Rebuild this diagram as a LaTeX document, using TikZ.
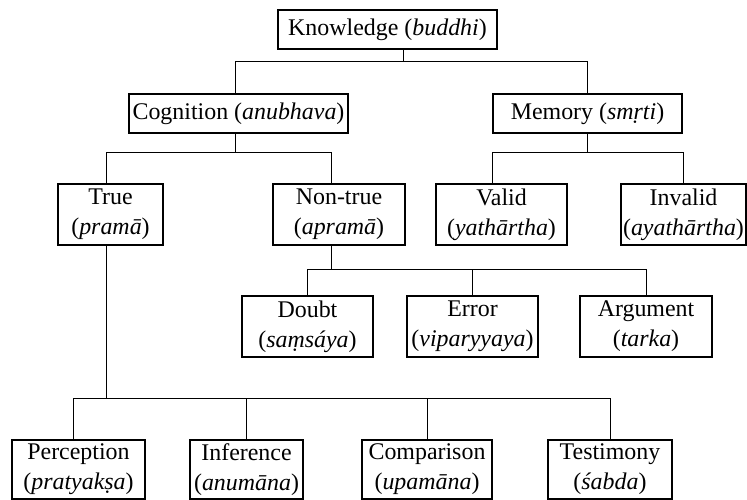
\documentclass[tikz,border=0pt]{standalone}
\usepackage{fontspec}
\setmainfont{Liberation Serif}
\usetikzlibrary{calc}

\begin{document}
\begin{tikzpicture}[x=1bp,y=-1bp,
    box/.style 2 args={draw, line width=1.1bp, inner sep=0pt, align=center,
        minimum width=#1bp, minimum height=#2bp, font=\fontsize{24}{30}\selectfont},
    link/.style={line width=1bp}]
    \useasboundingbox (0,0) rectangle (747,500);

    % Knowledge and its two kinds
    \node[box={219}{39}] (buddhi) at (387.5,29.5) {Knowledge (\textit{buddhi})};
    \node[box={219}{39}] (anubhava) at (238.5,113.5) {Cognition (\textit{anubhava})};
    \node[box={189}{39}] (smrti) at (587.5,113.5) {Memory (\textit{smṛti})};

    % second level
    \node[box={105}{61}] (prama) at (110.5,214.5) {True\\(\textit{pramā})};
    \node[box={132}{61}] (aprama) at (339,214.5) {Non-true\\(\textit{apramā})};
    \node[box={131}{61}] (yath) at (501.5,214.5) {Valid\\(\textit{yathārtha})};
    \node[box={125}{61}] (ayath) at (683.5,214.5) {Invalid\\(\textit{ayathārtha})};

    % kinds of non-true cognition
    \node[box={131}{61}] (samsaya) at (307.5,326.5) {Doubt\\(\textit{saṃsáya})};
    \node[box={131}{61}] (viparyaya) at (472.5,326.5) {Error\\(\textit{viparyyaya})};
    \node[box={132}{61}] (tarka) at (646,326.5) {Argument\\(\textit{tarka})};

    % sources of true cognition
    \node[box={133}{59}] (pratyaksa) at (78.5,469.5) {Perception\\(\textit{pratyakṣa})};
    \node[box={113}{59}] (anumana) at (246.5,469.5) {Inference\\(\textit{anumāna})};
    \node[box={130}{59}] (upamana) at (427,469.5) {Comparison\\(\textit{upamāna})};
    \node[box={124}{59}] (sabda) at (610,469.5) {Testimony\\(\textit{śabda})};

    % connectors
    \draw[link] ([xshift=16bp]buddhi.south) -- ++(0,12) coordinate (j1);
    \draw[link] ([xshift=-3bp]anubhava.north) |- (j1) -| (smrti.north);

    \draw[link] ([xshift=-3bp]anubhava.south) -- ++(0,19) coordinate (j2);
    \draw[link] ([xshift=-4bp]prama.north) |- (j2) -| ([xshift=-8bp]aprama.north);
    \draw[link] (smrti.south) -- ++(0,19) coordinate (j3);
    \draw[link] ([xshift=-9bp]yath.north) |- (j3) -| (ayath.north);

    \draw[link] ([xshift=-8bp]aprama.south) -- ++(0,24) coordinate (j4);
    \draw[link] (samsaya.north) |- (j4) -| (tarka.north);
    \draw[link] (viparyaya.north) -- (viparyaya.north |- j4);

    \draw[link] ([xshift=-4bp]prama.south) -- ++(0,153) coordinate (j5);
    \draw[link] ([xshift=-5.5bp]pratyaksa.north) |- (j5) -| (sabda.north);
    \foreach \n in {anumana,upamana}
        \draw[link] (\n.north) -- (\n.north |- j5);

\end{tikzpicture}
\end{document}
